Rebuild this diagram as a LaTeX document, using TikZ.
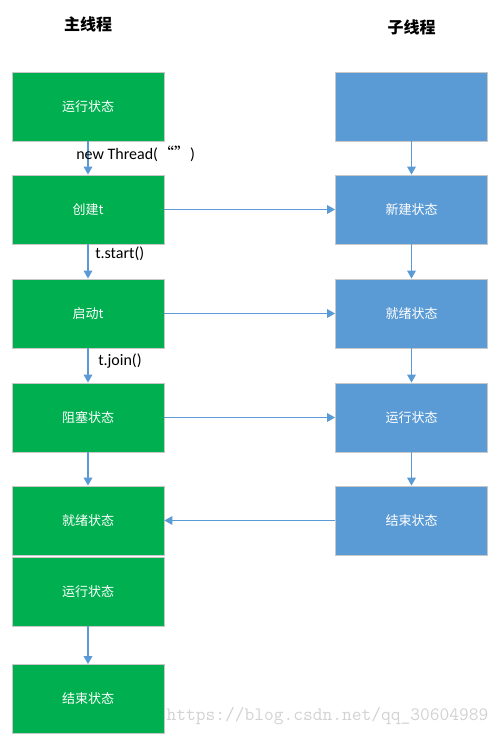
\documentclass[tikz,border=0pt]{standalone}
\usepackage{fontspec}
\setmainfont{Carlito}
\newfontfamily\cjk{Noto Sans CJK SC}
\usetikzlibrary{arrows.meta}
\definecolor{zhugreen}{HTML}{00B050}
\definecolor{zilan}{HTML}{5B9BD5}
\definecolor{bian}{HTML}{C8C8C8}
\definecolor{shuiyin}{HTML}{D2D2D2}
\tikzset{
  zhubox/.style={draw=bian, line width=0.6pt, fill=zhugreen, text=white,
    minimum width=114pt, minimum height=51.75pt, inner sep=0pt,
    font=\cjk\fontsize{9.75}{11}\selectfont},
  zibox/.style={zhubox, fill=zilan},
  jian/.style={draw=zilan, line width=0.9pt, -{Triangle[length=6pt,width=6.5pt]}},
  biaoti/.style={font=\cjk\bfseries\fontsize{12}{14}\selectfont},
  shuoming/.style={anchor=west, inner sep=0pt, font=\fontsize{12}{14}\selectfont}
}
\begin{document}
\begin{tikzpicture}[x=0.75pt, y=-0.75pt]
	\useasboundingbox (0,0) rectangle (503,736);
	% titles
	\node[biaoti] (zhu) at (88,24) {主线程};
	\node[biaoti] (zi) at (411.5,27) {子线程};
	% main thread
	\node[zhubox] (m1) at (88,106.5) {运行状态};
	\node[zhubox] (m2) at (88,209.5) {创建t};
	\node[zhubox] (m3) at (88,313.5) {启动t};
	\node[zhubox] (m4) at (88,417.5) {阻塞状态};
	\node[zhubox] (m5) at (88,520.5) {就绪状态};
	\node[zhubox] (m6) at (88,591.5) {运行状态};
	\node[zhubox] (m7) at (88,699) {结束状态};
	% child thread
	\node[zibox] (s1) at (411.5,106.5) {};
	\node[zibox] (s2) at (411.5,209.5) {新建状态};
	\node[zibox] (s3) at (411.5,313.5) {就绪状态};
	\node[zibox] (s4) at (411.5,417.5) {运行状态};
	\node[zibox] (s5) at (411.5,520.5) {结束状态};
	% connectors
	\foreach \von/\bis in {m1/m2,m2/m3,m3/m4,m4/m5,m6/m7,s1/s2,s2/s3,s3/s4,s4/s5}
	\draw[jian] (\von.south)--(\bis.north);
	\foreach \zeile in {2,3,4}
	\draw[jian] (m\zeile.east)--(s\zeile.west);
	\draw[jian] (s5.west)--(m5.east);
	% labels
	\node[shuoming] (lnew) at (76,154) {new Thread({\cjk “”})};
	\node[shuoming] (lstart) at (95,253.5) {t.start()};
	\node[shuoming] (ljoin) at (98,361) {t.join()};
	\node[text=shuiyin, font=\ttfamily\fontsize{14.2}{16}\selectfont, inner sep=0pt] (wm) at (327.5,716) {https://blog.csdn.net/qq\_30604989};
\end{tikzpicture}
\end{document}
